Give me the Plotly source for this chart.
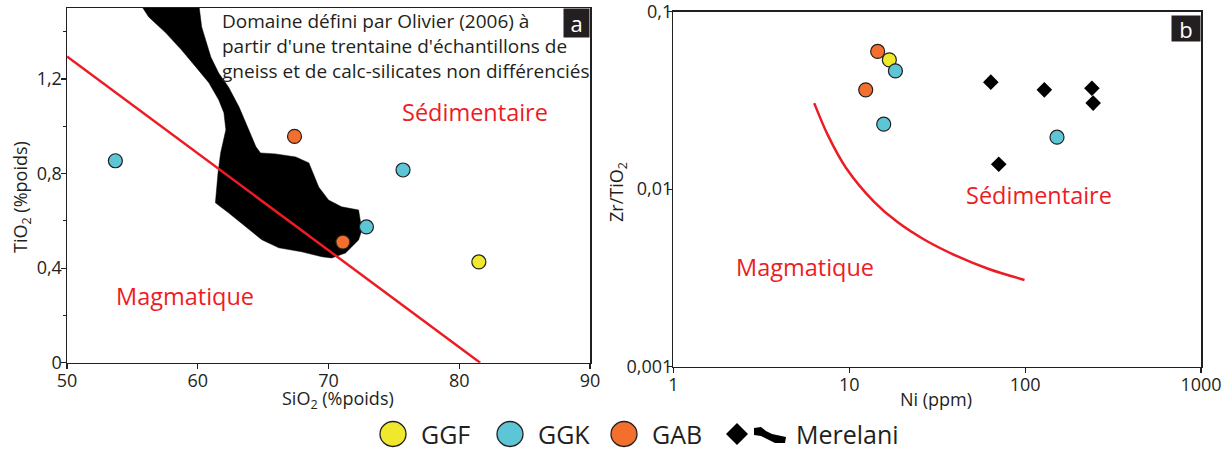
import plotly.graph_objects as go

# ---------------- data ----------------
# Panel a : SiO2 vs TiO2 (wt%)
ggf_sio2 = [81.5]
ggf_tio2 = [0.426]
ggk_sio2 = [53.7, 75.7, 72.9]
ggk_tio2 = [0.854, 0.815, 0.574]
gab_sio2 = [67.4, 71.1]
gab_tio2 = [0.957, 0.510]

# discrimination line (panel a)
line_a_sio2 = [50.0, 81.6]
line_a_tio2 = [1.295, 0.0]

# Olivier (2006) domain outline (panel a)
dom_sio2 = [55.45, 56.25, 57.55, 58.75, 59.85, 60.85, 61.6, 62.0, 62.15, 62.0,
            61.75, 61.55, 61.35, 61.35, 62.35, 63.65, 64.9, 66.2, 67.95, 69.5,
            70.25, 71.3, 72.3, 72.55, 72.3, 71.0, 70.0, 69.25, 68.85, 68.5,
            67.5, 65.95, 64.8, 64.45, 63.9, 63.15, 62.35, 61.6, 61.0, 60.6,
            60.3, 60.05]
dom_tio2 = [1.53, 1.462, 1.395, 1.323, 1.251, 1.184, 1.112, 1.057, 0.985, 0.943,
            0.887, 0.802, 0.688, 0.676, 0.634, 0.575, 0.520, 0.486, 0.469, 0.448,
            0.443, 0.464, 0.519, 0.561, 0.646, 0.659, 0.688, 0.743, 0.802, 0.845,
            0.870, 0.883, 0.887, 0.913, 0.985, 1.082, 1.166, 1.225, 1.293, 1.365,
            1.420, 1.53]

# Panel b : Ni (ppm) vs Zr/TiO2
ggf_ni = [16.9]
ggf_zr = [0.0534]
ggk_ni = [18.3, 15.7, 151.8]
ggk_zr = [0.0463, 0.0232, 0.0196]
gab_ni = [14.5, 12.4]
gab_zr = [0.0596, 0.0362]
mer_ni = [63.8, 128.6, 239.7, 243.7, 70.8]
mer_zr = [0.0400, 0.0362, 0.0370, 0.0305, 0.0138]

# discrimination curve (panel b)
curve_ni = [6.32, 7.58, 9.57, 13.8, 18.8, 27.1, 41.0, 62.1, 99.2]
curve_zr = [0.0305, 0.0200, 0.0132, 0.00851, 0.00652, 0.00515, 0.00419, 0.00355, 0.00308]

# tick labels
a_yticks = [0, 0.4, 0.8, 1.2]
a_yticktext = ["0", "0,4", "0,8", "1,2"]
a_xticks = [50, 60, 70, 80, 90]
b_xticks = [1, 10, 100, 1000]
b_xticktext = ["1", "10", "100", "1000"]
b_yticks = [0.001, 0.01, 0.1]
b_yticktext = ["0,001", "0,01", "0,1"]

legend_names = ["GGF", "GGK", "GAB", "Merelani"]

# ---------------- style ----------------
FONT = "Open Sans"
INK = "#231f20"
RED = "#ed1c24"
YEL = "#efe82c"
CYA = "#5cc6d6"
ORA = "#f26f2d"
W, H = 1223, 450


def px(x):
    return min(1.0, max(0.0, x / W))


def py(y):
    return min(1.0, max(0.0, 1 - y / H))


fig = go.Figure()

# Panel a
fig.add_trace(go.Scatter(x=dom_sio2, y=dom_tio2, fill="toself", fillcolor="black",
                         mode="lines", line=dict(width=0.5, color="black"),
                         xaxis="x", yaxis="y", showlegend=False, hoverinfo="skip"))
fig.add_trace(go.Scatter(x=line_a_sio2, y=line_a_tio2, mode="lines",
                         line=dict(color=RED, width=2.5), xaxis="x", yaxis="y",
                         showlegend=False))
mk = dict(size=14, line=dict(color=INK, width=1.2))
for xs, ys, c in [(ggk_sio2, ggk_tio2, CYA), (gab_sio2, gab_tio2, ORA), (ggf_sio2, ggf_tio2, YEL)]:
    fig.add_trace(go.Scatter(x=xs, y=ys, mode="markers", marker=dict(color=c, **mk),
                             xaxis="x", yaxis="y", showlegend=False, cliponaxis=False))

# Panel b
fig.add_trace(go.Scatter(x=curve_ni, y=curve_zr, mode="lines",
                         line=dict(color=RED, width=2.5, shape="spline", smoothing=1.0),
                         xaxis="x2", yaxis="y2", showlegend=False))
for xs, ys, c in [(gab_ni, gab_zr, ORA), (ggf_ni, ggf_zr, YEL), (ggk_ni, ggk_zr, CYA)]:
    fig.add_trace(go.Scatter(x=xs, y=ys, mode="markers", marker=dict(color=c, **mk),
                             xaxis="x2", yaxis="y2", showlegend=False))
fig.add_trace(go.Scatter(x=mer_ni, y=mer_zr, mode="markers",
                         marker=dict(symbol="diamond", size=12, color="black", line=dict(width=0)),
                         xaxis="x2", yaxis="y2", showlegend=False))

ax_common = dict(showline=True, mirror=True, linecolor=INK, linewidth=1.5, showgrid=False,
                 zeroline=False, ticks="outside", ticklen=5, tickwidth=1.2, tickcolor=INK,
                 automargin=False, ticklabeloverflow="allow",
                 tickfont=dict(family=FONT, size=18, color=INK))
TF = dict(family=FONT, size=18, color=INK)

fig.update_layout(
    width=W, height=H, margin=dict(l=0, r=0, t=0, b=0, autoexpand=False),
    paper_bgcolor="white", plot_bgcolor="white",
    font=dict(family=FONT, color=INK),
    xaxis=dict(domain=[px(67), px(590)], range=[50, 90], tickvals=a_xticks, anchor="y",
               ticklabelstandoff=-4, **ax_common),
    yaxis=dict(domain=[py(362.7), py(8)], range=[0, 1.5], tickvals=a_yticks, ticktext=a_yticktext,
               anchor="x", ticklabelstandoff=-5,
               minor=dict(tickvals=[0.2, 0.6, 1.0, 1.4], ticks="outside", ticklen=3, tickcolor=INK),
               **ax_common),
    xaxis2=dict(domain=[px(673.4), px(1201)], type="log", range=[0, 3], tickvals=b_xticks,
                ticktext=b_xticktext, anchor="y2", ticklabelstandoff=-4,
                **ax_common),
    yaxis2=dict(domain=[py(366.7), py(11.5)], type="log", range=[-3, -1], tickvals=b_yticks,
                ticktext=b_yticktext, anchor="x2", ticklabelstandoff=-9,
                **ax_common),
)

CM = dict(xanchor="center", yanchor="middle", showarrow=False)
ann = []
# axis titles
ann.append(dict(text="SiO<sub>2</sub> (%poids)", xref="paper", yref="paper", x=px(338), y=py(399),
                font=TF, **CM))
ann.append(dict(text="TiO<sub>2</sub> (%poids)", xref="paper", yref="paper", x=px(21), y=py(197),
                textangle=-90, font=TF, **CM))
ann.append(dict(text="Ni (ppm)", xref="paper", yref="paper", x=px(936), y=py(399),
                font=TF, **CM))
ann.append(dict(text="Zr/TiO<sub>2</sub>", xref="paper", yref="paper", x=px(617), y=py(192),
                textangle=-90, font=TF, **CM))
# panel a texts
for i, t in enumerate(["Domaine défini par Olivier (2006) à",
                       "partir d'une trentaine d'échantillons de",
                       "gneiss et de calc-silicates non différenciés"]):
    ann.append(dict(text=t, xref="paper", yref="paper", x=px(220), y=py(21 + 25 * i), xanchor="left",
                    yanchor="middle", showarrow=False, font=dict(family=FONT, size=19, color=INK)))
ann.append(dict(text="Sédimentaire", xref="x", yref="y", x=81.2, y=1.06,
                font=dict(family=FONT, size=23.5, color=RED), **CM))
ann.append(dict(text="Magmatique", xref="x", yref="y", x=59.0, y=0.28,
                font=dict(family=FONT, size=23.5, color=RED), **CM))
ann.append(dict(text="Sédimentaire", xref="x2", yref="y2", x=2.08, y=-2.035,
                font=dict(family=FONT, size=23.5, color=RED), **CM))
ann.append(dict(text="Magmatique", xref="x2", yref="y2", x=0.75, y=-2.44,
                font=dict(family=FONT, size=23.5, color=RED), **CM))
# panel labels
ann.append(dict(text="a", xref="x domain", yref="y domain", x=1, y=1, xanchor="right", yanchor="top",
                width=25, height=28, borderpad=0, bgcolor="#231f20", showarrow=False,
                font=dict(family=FONT, size=22, color="white")))
ann.append(dict(text="b", xref="x2 domain", yref="y2 domain", x=1, y=0.989, xanchor="right",
                yanchor="top", width=28, height=25, borderpad=0, bgcolor="#231f20", showarrow=False,
                font=dict(family=FONT, size=22, color="white")))
# legend texts
for t, x in zip(legend_names, [419, 536, 650, 794]):
    ann.append(dict(text=t, xref="paper", yref="paper", x=px(x), y=py(434), xanchor="left",
                    yanchor="middle", showarrow=False, font=dict(family=FONT, size=25, color=INK)))

shapes = []
for cx, c in [(393, YEL), (510, CYA), (624, ORA)]:
    shapes.append(dict(type="circle", xref="paper", yref="paper", xsizemode="pixel", ysizemode="pixel",
                       xanchor=px(cx), yanchor=py(434), x0=-13, x1=13, y0=-12.5, y1=12.5,
                       fillcolor=c, line=dict(color=INK, width=1.3)))
shapes.append(dict(type="path", xref="paper", yref="paper", xsizemode="pixel", ysizemode="pixel",
                   xanchor=px(737), yanchor=py(434),
                   path="M -11 0 L 0 11 L 11 0 L 0 -11 Z", fillcolor="black", line=dict(width=0)))
shapes.append(dict(type="path", xref="paper", yref="paper", xsizemode="pixel", ysizemode="pixel",
                   xanchor=px(770), yanchor=py(434),
                   path="M -16 6 L -9 7 L -4 3 L 2 0 L 16 -3 L 15 -9 L 5 -9 L -3 -5 L -9 -2 L -16 -1 Z",
                   fillcolor="black", line=dict(width=0)))

fig.update_layout(annotations=ann, shapes=shapes)
fig.write_html("out.html", config={"displayModeBar": False, "staticPlot": True},
               post_script="document.body.style.margin='0';document.body.style.overflow='hidden';")
